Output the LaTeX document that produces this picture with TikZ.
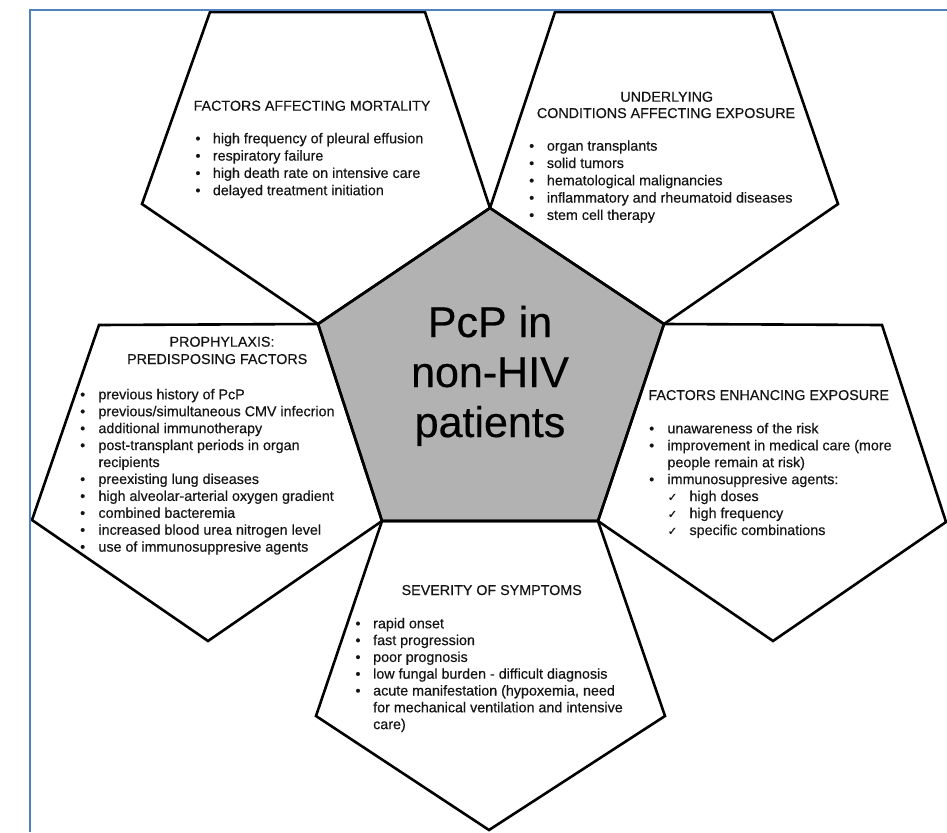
\documentclass[tikz,border=0pt]{standalone}
\usepackage{fontspec}
\setmainfont{Liberation Sans}
\newfontfamily\txtfont{Liberation Sans}[FakeBold=0.45]
\newfontfamily\symfont{DejaVu Sans}[FakeBold=0.4]
\definecolor{framecol}{RGB}{79,129,189}
\definecolor{centergray}{RGB}{178,178,178}
\definecolor{txt}{RGB}{20,20,20}
\tikzset{
  pent/.style={draw=black, line width=2.6pt, line join=miter},
  hd/.style={font=\txtfont\fontsize{14.3}{17.3}\selectfont, text=txt, inner sep=0pt, anchor=base},
  it/.style={font=\txtfont\fontsize{14.3}{17.3}\selectfont, text=txt, inner sep=0pt, anchor=base west},
  bu/.style={font=\txtfont\fontsize{14.3}{17.3}\selectfont, text=txt, inner sep=0pt, anchor=base},
  ck/.style={font=\symfont\fontsize{11.5}{13}\selectfont, text=txt, inner sep=0pt, anchor=base},
  ttl/.style={font=\txtfont\fontsize{43}{50}\selectfont, text=black, inner sep=0pt, anchor=base}
}
\begin{document}
\begin{tikzpicture}[x=1pt,y=-1pt]
\useasboundingbox (0,0) rectangle (947,832);
% central pentagon
\coordinate (cT) at (490,208);
\coordinate (cUL) at (318,324);
\coordinate (cUR) at (664,324);
\coordinate (cLL) at (382,521);
\coordinate (cLR) at (598,521);
% outer vertices
\coordinate (tlA) at (210,12);
\coordinate (tlB) at (425,12);
\coordinate (tlL) at (142,204);
\coordinate (trA) at (555,12);
\coordinate (trB) at (772,12);
\coordinate (trR) at (838,204);
\coordinate (lTL) at (99,325);
\coordinate (lL) at (32,520);
\coordinate (lB) at (208,641);
\coordinate (rTR) at (882,325);
\coordinate (rR) at (946,522);
\coordinate (rB) at (773,641);
\coordinate (bR) at (665,716);
\coordinate (bB) at (489,830);
\coordinate (bL) at (316,716);

\fill[centergray] (cT) -- (cUR) -- (cLR) -- (cLL) -- (cUL) -- cycle;
\draw[pent] (cT) -- (cUR) -- (cLR) -- (cLL) -- (cUL) -- cycle;
\draw[pent] (tlA) -- (tlB) -- (cT) -- (cUL) -- (tlL) -- cycle;
\draw[pent] (trA) -- (trB) -- (trR) -- (cUR) -- (cT) -- cycle;
\draw[pent] (lTL) -- (cUL) -- (cLL) -- (lB) -- (lL) -- cycle;
\draw[pent] (cUR) -- (rTR) -- (rR) -- (rB) -- (cLR) -- cycle;
\draw[pent] (cLL) -- (cLR) -- (bR) -- (bB) -- (bL) -- cycle;

% frame
\draw[framecol, line width=2pt] (30,832) -- (30,10) -- (947,10);

% title
\node[ttl] (t1) at (490,337) {PcP in};
\node[ttl] (t2) at (490,387) {non-HIV};
\node[ttl] (t3) at (490,437) {patients};

% top-left
\node[hd] (tlh) at (312,110.7) {FACTORS AFFECTING MORTALITY};
\foreach \s [count=\k from 0] in {high frequency of pleural effusion, respiratory failure, high death rate on intensive care, delayed treatment initiation}{
  \node[bu] (tlb\k) at (198,{143.3+17.3*\k}) {•};
  \node[it] (tli\k) at (212.7,{143.3+17.3*\k}) {\s};
}

% top-right
\node[hd] (trh1) at (666.7,101.7) {UNDERLYING};
\node[hd] (trh2) at (666,118) {CONDITIONS AFFECTING EXPOSURE};
\foreach \s [count=\k from 0] in {organ transplants, solid tumors, hematological malignancies, inflammatory and rheumatoid diseases, stem cell therapy}{
  \node[bu] (trb\k) at (531.7,{150.7+17.3*\k}) {•};
  \node[it] (tri\k) at (546.7,{150.7+17.3*\k}) {\s};
}

% left
\node[hd] (lh1) at (222,346.7) {PROPHYLAXIS:};
\node[hd] (lh2) at (217.2,364) {PREDISPOSING FACTORS};
\foreach \s [count=\k from 0] in {previous history of PcP, previous/simultaneous CMV infecrion, additional immunotherapy, post-transplant periods in organ, recipients, preexisting lung diseases, high alveolar-arterial oxygen gradient, combined bacteremia, increased blood urea nitrogen level, use of immunosuppresive agents}{
  \node[it] (li\k) at (98.3,{399.3+16.93*\k}) {\s};
}
\foreach \k in {0,1,2,3,5,6,7,8,9}{
  \node[bu] (lb\k) at (82.7,{399.3+16.93*\k}) {•};
}

% right
\node[hd] (rh) at (768.7,400) {FACTORS ENHANCING EXPOSURE};
\foreach \s [count=\k from 0] in {unawareness of the risk, improvement in medical care (more, people remain at risk), immunosuppresive agents:}{
  \node[it] (ri\k) at (667.3,{433.3+16.95*\k}) {\s};
}
\foreach \k in {0,1,3}{
  \node[bu] (rb\k) at (651.7,{433.3+16.95*\k}) {•};
}
\foreach \s [count=\k from 4] in {high doses, high frequency, specific combinations}{
  \node[ck] (rc\k) at (672.5,{433.3+16.95*\k}) {✓};
  \node[it] (ri\k) at (689.3,{433.3+16.95*\k}) {\s};
}

% bottom
\node[hd] (bh) at (491.7,595) {SEVERITY OF SYMPTOMS};
\foreach \s [count=\k from 0] in {rapid onset, fast progression, poor prognosis, low fungal burden - difficult diagnosis, {acute manifestation (hypoxemia, need}, for mechanical ventilation and intensive, care)}{
  \node[it] (bi\k) at (373,{628.3+16.8*\k}) {\s};
}
\foreach \k in {0,1,2,3,4}{
  \node[bu] (bb\k) at (358,{628.3+16.8*\k}) {•};
}
\end{tikzpicture}
\end{document}
